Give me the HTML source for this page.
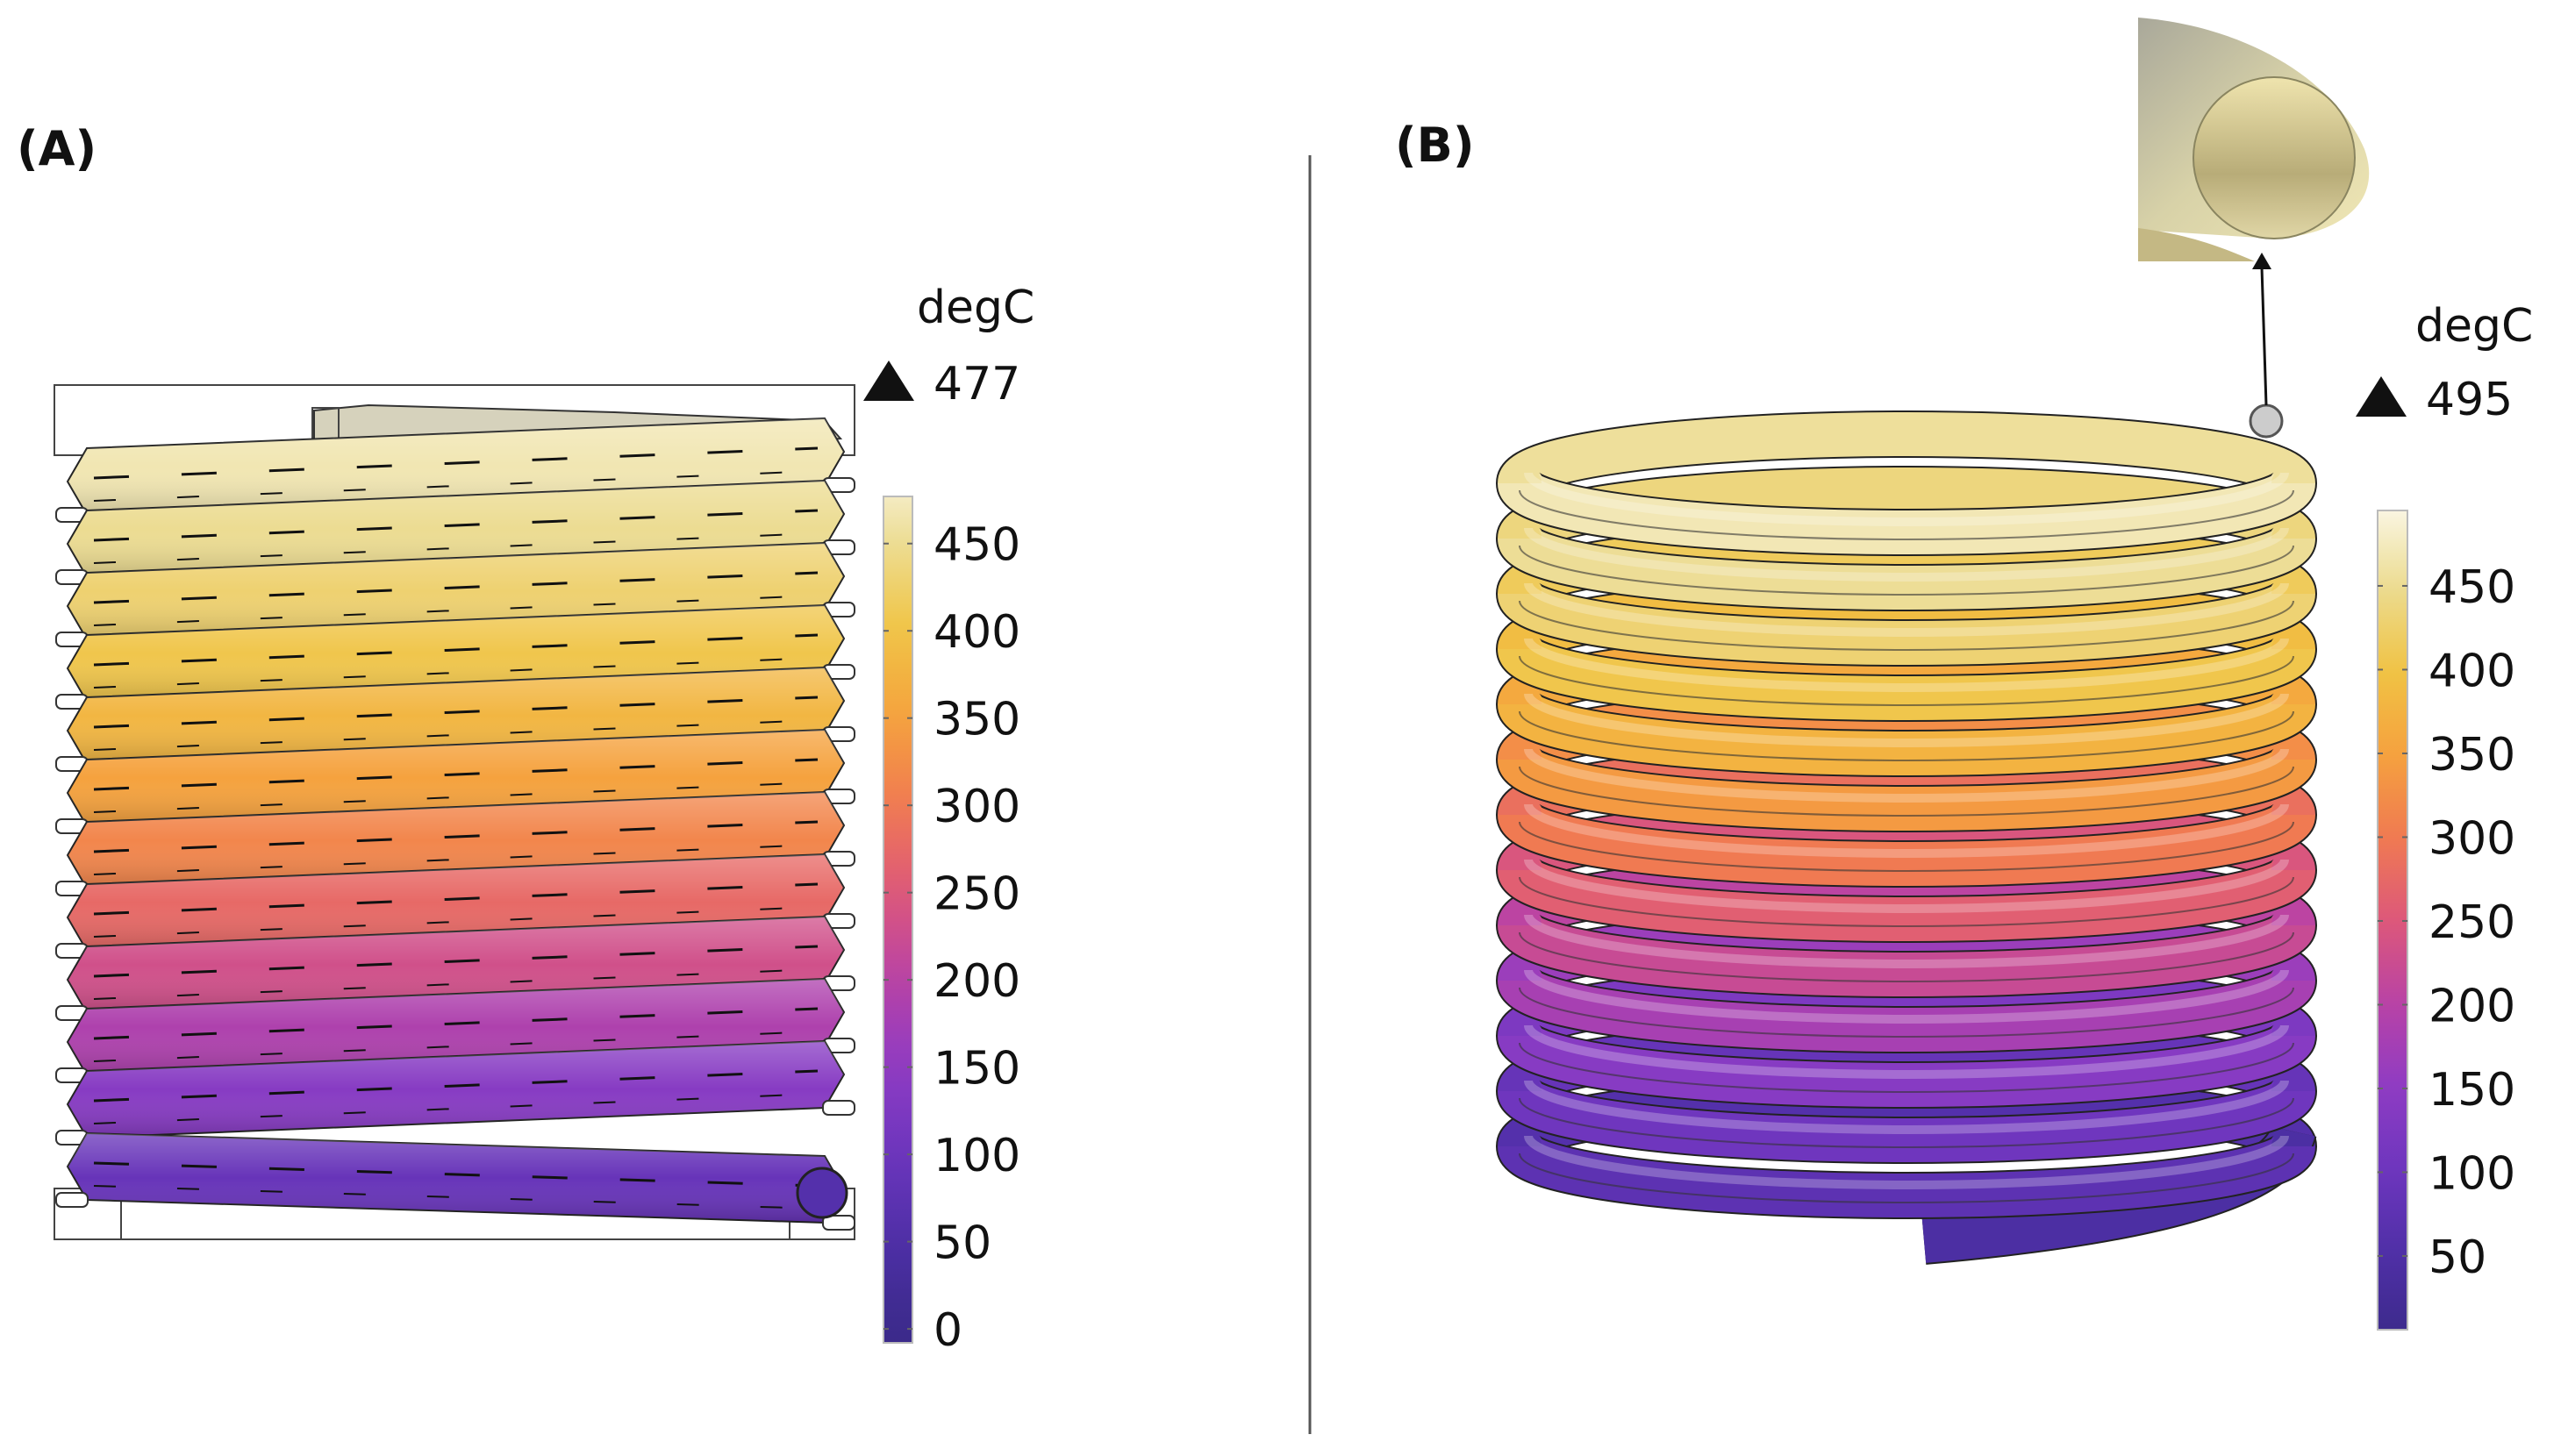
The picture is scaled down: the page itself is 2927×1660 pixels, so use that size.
<!DOCTYPE html>
<html><head><meta charset="utf-8"><style>
html,body{margin:0;padding:0;background:#fff;}
svg{display:block;}
text{font-family:"DejaVu Sans","Liberation Sans",sans-serif;fill:#111;}
</style></head><body>
<svg id="fig" width="2927" height="1660" viewBox="0 0 2927 1660" xmlns="http://www.w3.org/2000/svg">
<defs>
<linearGradient id="cbarA" x1="0" y1="1" x2="0" y2="0"></linearGradient>
<linearGradient id="cbarB" x1="0" y1="1" x2="0" y2="0"></linearGradient>
<linearGradient id="shadeV" x1="0" y1="0" x2="0" y2="1">
<stop offset="0" stop-color="#fff" stop-opacity="0.25"/><stop offset="0.5" stop-color="#fff" stop-opacity="0"/><stop offset="1" stop-color="#000" stop-opacity="0.18"/>
</linearGradient>
<linearGradient id="inset" x1="0" y1="0" x2="1" y2="1">
<stop offset="0" stop-color="#a9a89a"/><stop offset="0.5" stop-color="#d8d2a8"/><stop offset="1" stop-color="#efe6b4"/>
</linearGradient>
<linearGradient id="insetDisk" x1="0" y1="0" x2="0" y2="1">
<stop offset="0" stop-color="#efe4ae"/><stop offset="0.6" stop-color="#b8ac78"/><stop offset="1" stop-color="#e0d6a6"/>
</linearGradient>
</defs>
<text x="19" y="188" font-size="54" font-weight="bold">(A)</text>
<text x="1590" y="184" font-size="54" font-weight="bold">(B)</text>
<line x1="1493" y1="177" x2="1493" y2="1635" stroke="#555" stroke-width="3"/>
<g id="coilA"></g>
<g id="coilB"></g>
<g>
<path d="M2437 20 C2560 30 2660 90 2695 170 C2720 240 2650 270 2590 272 L2437 262 Z" fill="url(#inset)"/>
<circle cx="2592" cy="180" r="92" fill="url(#insetDisk)" stroke="#8a8560" stroke-width="2"/>
<path d="M2437 260 C2500 268 2540 285 2570 298 L2437 298 Z" fill="#c4b884"/>
<line x1="2583" y1="462" x2="2578" y2="305" stroke="#111" stroke-width="3"/>
<polygon points="2578,288 2567,307 2589,307" fill="#111"/>
</g>
<g id="cbA"></g>
<g id="cbB"></g>
</svg>
<script>
// ---- data ----
const colorStopsValues = [0, 50, 100, 150, 200, 250, 300, 350, 400, 450, 500];
const colorStopsHex = ["#3b2a8a","#4e2fa6","#6c35bd","#8e3cc4","#b842a6","#dd587a","#f07a52","#f5a23e","#f0c444","#ecdc92","#fbf8ea"];
const ticksA = [0, 50, 100, 150, 200, 250, 300, 350, 400, 450];
const ticksB = [50, 100, 150, 200, 250, 300, 350, 400, 450];
const rangeA = [-8, 477];
const rangeB = [6, 495];
const maxA = 477;
const maxB = 495;
const turnTempsA = [468, 450, 428, 405, 380, 350, 315, 275, 232, 188, 140, 92];
const turnTempsB = [470, 452, 430, 405, 375, 340, 300, 260, 220, 180, 140, 105, 75];
const tailTempB = 45;

const NS = "http://www.w3.org/2000/svg";
function hexToRgb(h){return [1,3,5].map(i=>parseInt(h.substr(i,2),16));}
function cmap(v){
  const s=colorStopsValues;
  if(v<=s[0])return colorStopsHex[0];
  for(let i=1;i<s.length;i++){ if(v<=s[i]){
    const t=(v-s[i-1])/(s[i]-s[i-1]);const a=hexToRgb(colorStopsHex[i-1]),b=hexToRgb(colorStopsHex[i]);
    return "rgb("+a.map((x,k)=>Math.round(x+(b[k]-x)*t)).join(",")+")";}}
  return colorStopsHex[colorStopsHex.length-1];
}
function mk(tag,attrs,parent){const e=document.createElementNS(NS,tag);for(const k in attrs)e.setAttribute(k,attrs[k]);parent.appendChild(e);return e;}

// ---- colorbars ----
function colorbar(gid,gradId,range,ticks,maxv,box){
  const g=document.getElementById(gid);
  const grad=document.getElementById(gradId);
  for(let i=0;i<=20;i++){const v=range[0]+(range[1]-range[0])*i/20;
    mk("stop",{offset:i/20,"stop-color":cmap(v)},grad);}
  const y=v=>box.y1-(v-range[0])/(range[1]-range[0])*(box.y1-box.y0);
  const r=mk("rect",{x:box.x,y:box.y0,width:box.w,height:box.y1-box.y0,fill:"url(#"+gradId+")",stroke:"#bbb","stroke-width":2},g);
  
  
  ticks.forEach(t=>{
    const ty=y(t);
    mk("line",{x1:box.x,x2:box.x+6,y1:ty,y2:ty,stroke:"#666","stroke-width":2},g);
    mk("line",{x1:box.x+box.w-6,x2:box.x+box.w,y1:ty,y2:ty,stroke:"#666","stroke-width":2},g);
    const tx=mk("text",{x:box.x+box.w+24,y:ty+19,"font-size":52},g);
    tx.textContent=t;
    
    
  });
  const u=mk("text",{x:box.ux,y:box.uy,"font-size":52},g);u.textContent="degC";
  
  
  const tri=mk("polygon",{points:`${box.tx},${box.ty+46} ${box.tx+58},${box.ty+46} ${box.tx+29},${box.ty}`,fill:"#111"},g);
  
  
  const m=mk("text",{x:box.tx+80,y:box.ty+44,"font-size":52},g);m.textContent=maxv;
  
  
}
colorbar("cbA","cbarA",rangeA,ticksA,maxA,{x:1007,w:33,y0:566,y1:1531,ux:1045,uy:368,tx:984,ty:411});
colorbar("cbB","cbarB",rangeB,ticksB,maxB,{x:2710,w:34,y0:582,y1:1516,ux:2753,uy:389,tx:2685,ty:429});

// ---- coil A (side view) ----
(function(){
  const g=document.getElementById("coilA");
  mk("rect",{x:62,y:439,width:912,height:80,fill:"none",stroke:"#444","stroke-width":2},g);
  mk("rect",{x:62,y:1355,width:912,height:58,fill:"none",stroke:"#444","stroke-width":2},g);
  mk("line",{x1:138,y1:1355,x2:138,y2:1413,stroke:"#444","stroke-width":2},g);
  mk("line",{x1:900,y1:1330,x2:900,y2:1413,stroke:"#444","stroke-width":2},g);
  mk("path",{d:"M358 468 L420 462 L700 470 L940 480 L958 500 L700 520 L358 525 Z",fill:"#d6d2bc",stroke:"#333","stroke-width":2},g);
  mk("rect",{x:356,y:465,width:30,height:40,fill:"none",stroke:"#444","stroke-width":2},g);
  const x0=77,x1=962,step=71,half=38;
  turnTempsA.forEach((t,i)=>{
    const yL=549+step*i, yR=515+step*i + (i===turnTempsA.length-1?60:0);
    const pts=`${x0},${yL} ${x0+22},${yL-half} ${x1-22},${yR-half} ${x1},${yR} ${x1-22},${yR+half} ${x0+22},${yL+half}`;
    const p=mk("polygon",{points:pts,fill:cmap(t),stroke:"#222","stroke-width":2},g);
    
    
    mk("polygon",{points:pts,fill:"url(#shadeV)"},g);
    mk("line",{x1:x0+30,y1:yL-4,x2:x1-30,y2:yR-4,stroke:"#111","stroke-width":3,"stroke-dasharray":"40 60"},g);
    mk("line",{x1:x0+30,y1:yL+22,x2:x1-30,y2:yR+22,stroke:"#111","stroke-width":2,"stroke-dasharray":"25 70"},g);
    mk("rect",{x:64,y:yL+30,width:36,height:16,rx:6,fill:"#fff",stroke:"#333","stroke-width":2},g);
    mk("rect",{x:938,y:yR+30,width:36,height:16,rx:6,fill:"#fff",stroke:"#333","stroke-width":2},g);
  });
  mk("circle",{cx:937,cy:1360,r:28,fill:cmap(60),stroke:"#222","stroke-width":3},g);
})();

// ---- coil B (3D view) ----
(function(){
  const g=document.getElementById("coilB");
  const cx=2173, rx=441, ry=56, cy0=551, step=63, tube=50;
  turnTempsB.forEach((t,i)=>{
    const cy=cy0+step*i;
    mk("path",{d:`M${cx-rx} ${cy} A${rx} ${ry} 0 0 1 ${cx+rx} ${cy}`,fill:"none",stroke:"#222","stroke-width":tube+4},g);
    mk("path",{d:`M${cx-rx} ${cy} A${rx} ${ry} 0 0 1 ${cx+rx} ${cy}`,fill:"none",stroke:cmap(t-15),"stroke-width":tube},g);
  });
  // tail (visible below bottom ring)
  const tailY=cy0+step*turnTempsB.length;
  const td=`M${cx+rx} ${tailY-80} Q${cx+rx-20} ${tailY+10} ${cx+20} ${tailY+45}`;
  mk("path",{d:td,fill:"none",stroke:"#222","stroke-width":tube+4},g);
  const tl=mk("path",{d:td,fill:"none",stroke:cmap(tailTempB),"stroke-width":tube},g);
  
  
  for(let i=turnTempsB.length-1;i>=0;i--){
    const t=turnTempsB[i], cy=cy0+step*i;
    const d=`M${cx-rx} ${cy} A${rx} ${ry} 0 0 0 ${cx+rx} ${cy}`;
    mk("path",{d:d,fill:"none",stroke:"#222","stroke-width":tube+4},g);
    const p=mk("path",{d:d,fill:"none",stroke:cmap(t),"stroke-width":tube},g);
    
    
    mk("path",{d:`M${cx-rx+10} ${cy-12} A${rx-10} ${ry} 0 0 0 ${cx+rx-10} ${cy-12}`,fill:"none",stroke:"#fff","stroke-opacity":0.25,"stroke-width":10},g);
    mk("path",{d:`M${cx-rx} ${cy+8} A${rx} ${ry} 0 0 0 ${cx+rx} ${cy+8}`,fill:"none",stroke:"#333","stroke-opacity":0.6,"stroke-width":2},g);
  }
  mk("circle",{cx:2583,cy:480,r:18,fill:"#ccc",stroke:"#555","stroke-width":3},g);
})();
</script>
</body></html>
